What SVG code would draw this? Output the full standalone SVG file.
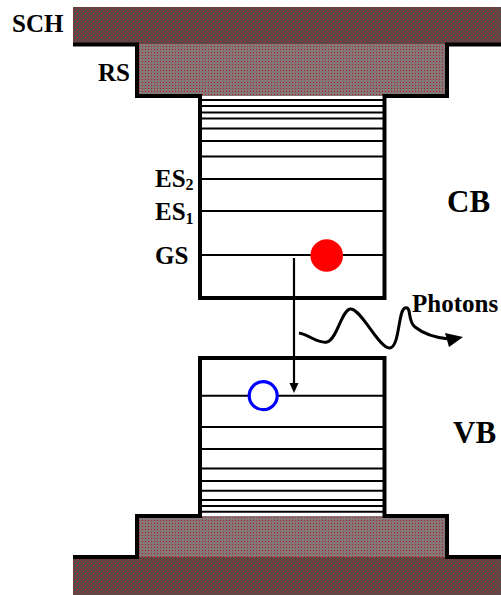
<svg xmlns="http://www.w3.org/2000/svg" width="501" height="595" viewBox="0 0 501 595">
  <defs>
    <pattern id="schPat" width="4" height="4" patternUnits="userSpaceOnUse">
      <rect width="4" height="4" fill="#5a4a4a"/>
      <rect x="1" y="1" width="1" height="1" fill="#e01010"/>
      <rect x="3" y="3" width="1" height="1" fill="#9a2020"/>
    </pattern>
    <pattern id="rsPat" width="3" height="3" patternUnits="userSpaceOnUse">
      <rect width="3" height="3" fill="#857878"/>
      <rect x="1" y="1" width="1" height="1" fill="#b01818"/>
    </pattern>
  </defs>
  <style>
    .outline { fill: none; stroke: #000; stroke-width: 4; }
    .level { stroke: #000; stroke-width: 2; }
    .lbl { font-family: "Liberation Serif", "Times New Roman", serif; font-weight: bold; fill: #000; }
  </style>

  <g id="sch-top">
    <rect x="73" y="7" width="428" height="37" fill="url(#schPat)"/>
    <text class="lbl" x="12" y="32" font-size="25">SCH</text>
  </g>
  <g id="rs-top">
    <rect x="137" y="44" width="310" height="52" fill="url(#rsPat)"/>
    <text class="lbl" x="98" y="81" font-size="25">RS</text>
  </g>
  <g id="sch-bottom">
    <rect x="73" y="557" width="428" height="38" fill="url(#schPat)"/>
  </g>
  <g id="rs-bottom">
    <rect x="137" y="516" width="310" height="41" fill="url(#rsPat)"/>
  </g>

  <g id="cb">
    <g class="level">
      <line x1="200" y1="100" x2="384" y2="100"/>
      <line x1="200" y1="106" x2="384" y2="106"/>
      <line x1="200" y1="112.5" x2="384" y2="112.5"/>
      <line x1="200" y1="118.5" x2="384" y2="118.5"/>
      <line x1="200" y1="128.5" x2="384" y2="128.5"/>
      <line x1="200" y1="141" x2="384" y2="141"/>
      <line x1="200" y1="156.5" x2="384" y2="156.5"/>
      <line x1="200" y1="179" x2="384" y2="179"/>
      <line x1="200" y1="211" x2="384" y2="211"/>
      <line x1="200" y1="255" x2="384" y2="255"/>
    </g>
    <path class="outline" d="M73,44.5 H137 V96 H200 V298 H384.5 V96 H447 V44.5 H501"/>
    <text class="lbl" x="447" y="212" font-size="31">CB</text>
    <text class="lbl" x="155" y="187" font-size="25">ES<tspan font-size="16" dy="3">2</tspan></text>
    <text class="lbl" x="155" y="220" font-size="25">ES<tspan font-size="16" dy="4">1</tspan></text>
    <text class="lbl" x="155" y="264" font-size="25">GS</text>
  </g>

  <g id="vb">
    <g class="level">
      <line x1="200" y1="395.7" x2="384" y2="395.7"/>
      <line x1="200" y1="427" x2="384" y2="427"/>
      <line x1="200" y1="449" x2="384" y2="449"/>
      <line x1="200" y1="468.5" x2="384" y2="468.5"/>
      <line x1="200" y1="481" x2="384" y2="481"/>
      <line x1="200" y1="490.7" x2="384" y2="490.7"/>
      <line x1="200" y1="500" x2="384" y2="500"/>
      <line x1="200" y1="506" x2="384" y2="506"/>
      <line x1="200" y1="511.7" x2="384" y2="511.7"/>
    </g>
    <path class="outline" d="M73,557 H137 V516 H200 V358 H384.5 V516 H447 V557 H501"/>
    <text class="lbl" x="453" y="443" font-size="31">VB</text>
  </g>

  <g id="electron">
    <circle cx="326.7" cy="255.5" r="16.3" fill="#ff0000"/>
  </g>
  <g id="hole">
    <circle cx="263.2" cy="395.7" r="14" fill="#fff" stroke="#0000ff" stroke-width="3.2"/>
  </g>

  <g id="connectors">
    <line x1="294" y1="258" x2="294" y2="384" stroke="#000" stroke-width="2.2"/>
    <polygon points="289.5,383 298.5,383 294,393" fill="#000"/>
    <path d="M299,333 C310,335 318,344 327,342 C337,340 342,308 351,309 C362,310 380,350 390,348 C400,346 398,310 405,308 C412,306 407,321 415,327 C425,335 438,338 449,339" fill="none" stroke="#000" stroke-width="3"/>
    <polygon points="445,333 463,337 449,347" fill="#000"/>
  </g>
  <g id="photons-label">
    <text class="lbl" x="412" y="312" font-size="25">Photons</text>
  </g>
</svg>
